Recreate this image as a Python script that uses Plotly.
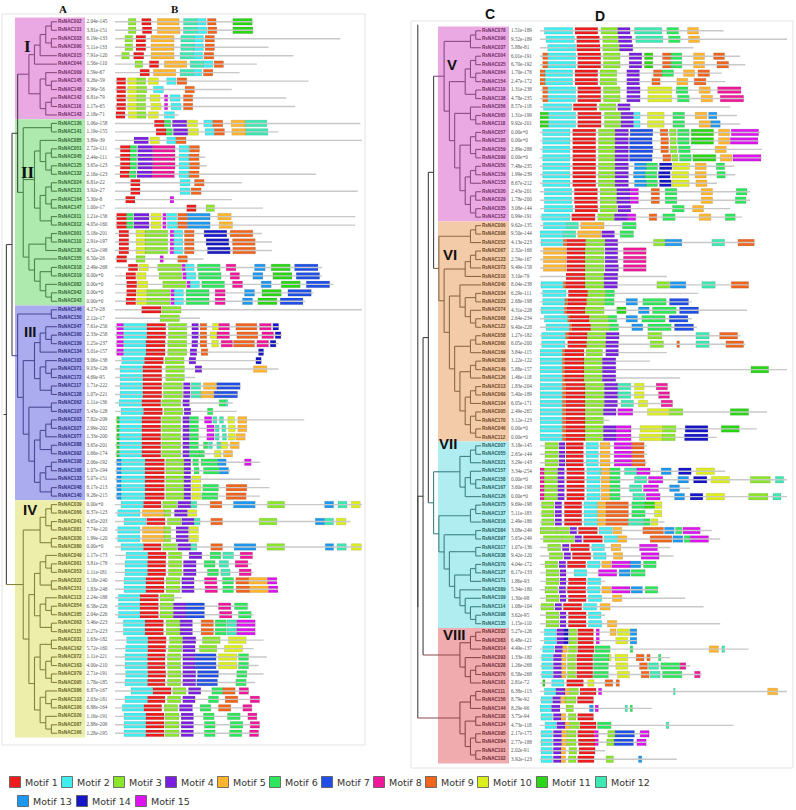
import plotly.graph_objects as go

# ---------------- data ----------------
MOTIF_NAMES = [f"Motif {i}" for i in range(1, 16)]
MOTIF_COLORS = ["#ee1c1c", "#40eef0", "#8ae62a", "#7a1fe0", "#ffb52e", "#2ee65c", "#1f4fe6",
                "#f0189a", "#f0651e", "#dcee1e", "#2ad616", "#3de8b2", "#1e98ee", "#1616c8", "#dc14ee"]

GI_genes = ["RsNAC002", "RsNAC131", "RsNAC033", "RsNAC090", "RsNAC015", "RsNAC044", "RsNAC009", "RsNAC145",
            "RsNAC148", "RsNAC142", "RsNAC116", "RsNAC143"]
GI_evalues = ["2.04e-145", "3.81e-151", "6.19e-133", "5.11e-133", "7.91e-120", "1.56e-110", "1.59e-67",
              "9.26e-59", "2.96e-56", "6.81e-79", "1.17e-65", "2.18e-71"]
GI_lengths = [415, 415, 675, 460, 535, 425, 373, 580, 350, 513, 540, 190]
GI_motifs = [
    "3:40-63 1:80-108 5:127-192 12:205-245 2:245-273 9:277-303 11:353-411",
    "3:40-63 1:82-110 5:127-195 12:205-245 2:245-275 9:278-305 11:353-413",
    "3:30-53 1:63-92 5:108-177 12:197-237 2:237-265 9:270-298",
    "3:30-53 1:63-92 5:108-177 12:197-237 2:237-265 9:270-298",
    "3:20-43 1:56-86 5:108-177 12:195-235 2:235-263 9:267-296",
    "3:60-83 1:103-131 5:148-215 12:225-265 2:265-293 9:297-325",
    "1:75-103 5:115-182 12:195-235 2:235-260 9:265-293",
    "1:5-32 10:38-65 3:65-92 10:100-130 2:155-183 9:186-215",
    "1:5-32 10:38-65 3:65-95 2:115-145 9:210-238",
    "1:5-32 10:38-65 3:65-92 10:105-135 15:148-158 2:165-195 9:205-233",
    "1:5-32 10:38-65 3:65-92 10:108-138 15:148-158 2:168-198 9:205-233",
    "1:3-30 10:40-67 3:67-93 10:100-130 2:148-178",
]
GI_tree = [[[[[0, 1], [2, 3]], 4], 5], [[6, [7, 8]], [[9, 10], 11]]]

GII_genes = ["RsNAC136", "RsNAC141", "RsNAC085", "RsNAC051", "RsNAC045", "RsNAC125", "RsNAC132", "RsNAC024",
             "RsNAC121", "RsNAC164", "RsNAC147", "RsNAC011", "RsNAC012", "RsNAC001", "RsNAC110", "RsNAC130",
             "RsNAC155", "RsNAC018", "RsNAC019", "RsNAC082", "RsNAC042", "RsNAC043"]
GII_evalues = ["1.06e-158", "1.19e-155", "3.89e-39", "2.72e-111", "2.44e-111", "3.65e-123", "2.16e-123",
               "6.81e-22", "3.92e-27", "5.30e-8", "1.00e-17", "1.21e-156", "4.05e-160", "5.18e-201",
               "2.91e-197", "4.52e-198", "6.50e-26", "2.49e-268", "0.00e+0", "0.00e+0", "0.00e+0", "0.00e+0"]
GII_lengths = [735, 490, 740, 255, 270, 275, 602, 380, 727, 350, 443, 720, 720, 440, 470, 470, 265, 620, 620,
               655, 595, 570]
GII_motifs = [
    "1:118-148 6:148-167 4:172-215 10:217-247 2:266-293 9:293-323 5:348-390 12:390-455",
    "1:123-153 6:153-172 4:175-218 10:220-250 2:270-298 9:298-328 5:350-392 12:392-458",
    "4:57-100 10:105-133 2:155-183 9:183-213",
    "1:16-45 6:45-65 4:68-113 8:113-180 2:192-222 9:223-253",
    "1:16-45 6:45-65 4:68-113 8:113-180 2:192-222 9:222-252",
    "1:16-45 6:45-65 4:68-113 8:113-180 2:192-222 9:223-253",
    "1:15-43 6:43-63 4:66-111 8:111-178 2:192-222 9:222-252",
    "1:47-75 2:195-225 9:238-267",
    "1:47-75 2:195-225 9:228-258",
    "1:32-60 15:165-176",
    "1:215-243 3:273-298",
    "1:5-35 6:35-55 4:57-102 10:108-138 15:143-153 2:155-185 9:188-217 13:217-285 5:308-348",
    "1:5-35 6:35-55 4:57-102 10:108-138 15:143-153 2:157-187 9:188-217 13:217-285 5:312-352",
    "1:12-41 10:63-90 3:90-158 15:165-176 2:176-203 9:208-237 14:267-335 9:345-413",
    "1:12-41 10:63-90 3:90-158 15:165-176 2:176-203 9:208-237 14:273-341 9:352-420",
    "1:12-41 10:63-90 3:90-158 15:165-176 2:176-203 9:208-237 14:277-345 9:353-421",
    "1:5-35 3:63-90 15:135-145 9:188-217",
    "1:40-68 10:72-100 3:128-198 15:200-210 2:210-237 6:247-315 8:333-362 13:418-450 11:468-525 7:538-608",
    "1:33-62 10:65-93 3:132-200 15:203-213 2:213-242 6:250-318 8:345-373 13:413-443 11:473-530 7:543-613",
    "1:35-65 10:68-98 3:143-212 15:215-225 2:225-253 6:260-328 8:352-382 13:438-468 11:498-555 7:573-643",
    "1:35-63 10:65-95 3:95-165 15:167-177 2:177-205 6:213-282 8:300-330 13:388-418 11:440-498 7:518-588",
    "1:33-62 10:65-95 3:95-165 15:167-177 2:177-205 6:213-282 8:300-330 13:382-412 11:428-485 7:495-563",
]
GII_tree = [[0, 1], [[2, [[3, 4], [5, 6]]], [[[7, 8], [9, 10]], [11, 12]]],
            [[[13, 14], 15], [16, [[17, 18], [19, [20, 21]]]]]]

GIII_genes = ["RsNAC146", "RsNAC150", "RsNAC047", "RsNAC160", "RsNAC139", "RsNAC134", "RsNAC103", "RsNAC071",
              "RsNAC172", "RsNAC117", "RsNAC128", "RsNAC062", "RsNAC107", "RsNAC003", "RsNAC027", "RsNAC077",
              "RsNAC088", "RsNAC092", "RsNAC108", "RsNAC168", "RsNAC133", "RsNAC048", "RsNAC140"]
GIII_evalues = ["4.27e-28", "2.12e-17", "7.61e-256", "2.33e-258", "1.25e-237", "5.01e-157", "3.06e-138",
                "9.03e-126", "4.69e-95", "1.71e-222", "1.07e-221", "1.11e-136", "5.43e-128", "7.82e-209",
                "2.99e-202", "1.33e-200", "3.65e-201", "1.66e-174", "2.06e-192", "1.07e-194", "5.07e-151",
                "8.17e-213", "9.28e-215"]
GIII_lengths = [740, 255, 490, 500, 490, 445, 440, 490, 240, 375, 367, 353, 365, 567, 395, 390, 372, 352, 435,
                345, 435, 463, 435]
GIII_motifs = [
    "1:80-138 3:140-198",
    "3:135-193",
    "15:5-25 2:25-95 1:95-152 3:160-215 4:230-250 9:255-275 10:292-310 8:310-343 9:362-425 8:433-468 14:473-490",
    "15:5-25 2:25-95 1:95-152 3:160-215 4:230-250 9:255-275 10:285-305 8:305-343 9:365-428 8:440-475 14:480-497",
    "15:5-25 2:25-93 1:93-150 3:158-215 4:230-248 9:255-275 10:290-310 8:318-352 9:355-418 8:425-460 14:465-482",
    "15:5-25 2:25-93 1:93-150 3:158-215 4:225-245 9:258-278 14:430-445",
    "2:20-88 1:88-145 3:150-207 4:222-242 14:422-438",
    "2:15-83 1:83-140 3:152-208 4:240-260 5:415-455",
    "2:15-83 1:83-140 3:152-208",
    "2:15-83 1:83-140 3:145-202 4:205-225 12:228-257 5:265-305 7:305-375",
    "2:15-83 1:83-140 3:145-202 4:205-225 12:228-257 5:257-297 7:297-367",
    "2:12-80 1:80-137 3:140-197 4:203-223 6:312-330 12:330-338",
    "2:18-85 1:85-142 3:147-203 4:207-227 6:277-293",
    "11:5-12 2:12-80 1:80-137 3:140-197 4:203-223 6:223-250 15:268-290 12:293-305 12:313-325 10:338-358 5:368-395",
    "11:5-12 2:12-80 1:80-137 3:140-197 4:203-223 6:223-250 15:275-297 12:300-312 12:320-332 10:340-360 5:368-395",
    "11:5-12 2:12-80 1:80-137 3:140-197 4:203-223 6:223-250 15:275-297 12:300-312 12:322-334 10:340-360 5:363-390",
    "11:5-12 2:12-80 1:80-137 3:140-197 4:203-223 6:223-250 6:265-278 12:280-292 12:305-317 10:318-338 5:345-372",
    "11:5-12 2:12-80 1:80-137 3:140-197 4:203-223 6:223-255 6:255-268 10:298-318 5:325-352",
    "13:5-18 2:18-90 1:90-148 3:152-207 4:207-227 6:233-250 6:258-308 13:308-333 15:388-408",
    "13:5-18 2:18-90 1:90-148 3:152-207 4:207-227 6:237-252 6:265-313 13:313-340",
    "13:5-18 2:18-90 1:90-148 3:152-207 4:207-227 10:230-257",
    "13:5-18 2:18-90 1:90-148 3:152-207 4:207-227 10:230-257 6:263-310 9:333-395",
    "13:5-18 2:18-90 1:90-148 3:152-207 4:207-227 10:230-257 6:260-308 9:333-393",
]
GIII_tree = [[0, 1], [[[[2, [3, 4]], 5], [[6, [7, 8]], [9, 10]]],
                      [[11, 12], [[[[13, 14], 15], [16, 17]], [[[18, 19], 20], [21, 22]]]]]]

GIV_genes = ["RsNAC039", "RsNAC066", "RsNAC041", "RsNAC081", "RsNAC030", "RsNAC080", "RsNAC049", "RsNAC061",
             "RsNAC053", "RsNAC022", "RsNAC151", "RsNAC113", "RsNAC054", "RsNAC165", "RsNAC063", "RsNAC115",
             "RsNAC031", "RsNAC162", "RsNAC072", "RsNAC163", "RsNAC079", "RsNAC095", "RsNAC086", "RsNAC103",
             "RsNAC106", "RsNAC026", "RsNAC087", "RsNAC166"]
GIV_evalues = ["0.00e+0", "6.37e-123", "4.65e-203", "7.74e-120", "1.99e-120", "0.00e+0", "1.17e-173",
               "3.81e-178", "1.11e-181", "5.18e-240", "1.83e-248", "2.24e-188", "6.58e-226", "2.04e-226",
               "5.46e-223", "2.27e-223", "1.63e-182", "5.72e-160", "1.11e-221", "4.00e-210", "2.71e-191",
               "1.78e-185", "6.87e-167", "2.03e-181", "6.88e-164", "1.16e-191", "2.88e-209", "1.28e-195"]
GIV_lengths = [740, 245, 705, 250, 250, 740, 415, 410, 415, 485, 488, 200, 400, 415, 420, 420, 445, 415, 455,
               430, 445, 420, 400, 433, 410, 425, 433, 430]
GIV_motifs = [
    "2:18-85 1:85-138 3:143-185 4:188-227 12:227-245 9:285-320 13:355-420 3:457-508 13:628-655 12:668-695 10:708-735",
    "2:8-75 5:82-147 3:147-167 4:178-217 10:218-245",
    "2:27-93 1:95-150 3:157-198 4:200-237 12:237-255 9:287-322 3:432-485 13:600-627 12:627-655 10:663-692",
    "2:8-75 5:82-147 3:147-167 4:183-220 10:222-250",
    "2:8-75 5:82-147 3:147-167 4:183-220 10:222-250",
    "2:18-85 1:85-138 3:143-185 4:188-227 12:227-245 9:287-322 13:357-422 3:455-508 13:630-655 12:665-693 10:708-738",
    "2:33-98 1:98-153 3:160-200 4:222-260 6:285-317 12:323-355 8:375-412",
    "2:30-97 1:97-152 3:160-200 4:205-243 6:267-300 12:312-340 8:360-398",
    "2:30-97 1:97-152 3:160-200 4:205-243 6:277-310 12:317-345 8:372-408",
    "2:27-92 1:92-147 3:153-195 4:200-237 8:268-305 6:322-355 9:362-400 5:400-457 15:457-485",
    "2:27-92 1:92-147 3:153-195 4:200-237 8:270-307 6:323-355 9:363-403 5:403-460 15:460-488",
    "2:10-75 1:75-130 3:135-177",
    "2:10-75 1:75-130 3:135-175 4:175-213 7:213-268 8:310-347 6:358-397",
    "2:10-75 1:75-130 3:135-175 4:175-213 7:213-268 8:313-350 6:370-408",
    "2:25-90 1:90-145 3:153-195 4:195-232 9:258-295 6:300-333 12:335-365 15:365-420",
    "2:25-90 1:90-145 3:153-195 4:195-232 9:258-295 6:300-333 12:335-365 15:365-420",
    "2:35-98 1:98-153 3:163-203 4:203-242 3:262-315 10:340-393",
    "2:32-98 1:98-152 3:160-200 4:203-240 3:253-305 10:328-382",
    "2:30-97 1:97-150 3:157-197 4:203-240 7:240-303 10:310-365 6:370-400",
    "2:30-97 1:97-150 3:157-197 4:203-240 7:240-303 10:310-365 6:370-400",
    "2:32-98 1:98-152 3:158-198 4:203-242 7:247-310 6:365-395",
    "2:30-97 1:97-150 3:157-197 4:203-242 7:245-307 6:362-393",
    "2:48-113 1:113-168 3:173-213 4:220-257 6:290-323 9:323-360 8:372-400",
    "2:30-97 1:97-150 3:157-197 4:203-240 6:280-310 9:330-368 8:405-433",
    "2:22-87 1:87-140 3:147-188 4:193-232 6:255-287 9:310-347 8:383-410",
    "2:27-92 1:92-147 3:150-192 4:198-235 6:265-297 6:337-375 8:398-425",
    "2:27-92 1:92-147 3:150-192 4:198-235 6:268-300 6:345-383 8:405-433",
    "2:27-92 1:92-147 3:150-192 4:198-235 6:268-300 6:343-380 8:403-430",
]
GIV_tree = [[[[0, 1], [2, 3]], [4, 5]],
            [[[[6, [7, 8]], [9, 10]], [[11, [12, 13]], [14, 15]]],
             [[[16, 17], [[18, 19], [20, 21]]], [[22, [23, 24]], [25, [26, 27]]]]]]

GV_genes = ["RsNAC078", "RsNAC096", "RsNAC037", "RsNAC004", "RsNAC025", "RsNAC064", "RsNAC154", "RsNAC119",
            "RsNAC138", "RsNAC056", "RsNAC065", "RsNAC118", "RsNAC057", "RsNAC105", "RsNAC059", "RsNAC099",
            "RsNAC050", "RsNAC159", "RsNAC153", "RsNAC020", "RsNAC029", "RsNAC035", "RsNAC152"]
GV_evalues = ["1.51e-189", "9.52e-189", "5.88e-81", "6.01e-191", "6.70e-192", "1.70e-176", "2.47e-172",
              "1.31e-238", "4.78e-235", "8.57e-118", "1.31e-199", "9.92e-201", "0.00e+0", "0.00e+0",
              "2.89e-288", "0.00e+0", "7.48e-235", "1.99e-239", "8.67e-212", "2.43e-201", "1.78e-200",
              "3.08e-144", "0.99e-191"]
GV_lengths = [550, 740, 460, 600, 615, 545, 555, 602, 610, 570, 590, 600, 660, 655, 665, 665, 582, 585, 530,
              630, 630, 570, 605]
GV_motifs = [
    "2:13-98 1:105-173 3:183-233 4:233-270 12:283-365 6:380-415 5:442-475",
    "2:18-103 1:110-178 3:188-235 4:235-275 12:287-368 6:385-420 5:445-478",
    "2:23-107 1:110-180 3:188-238 4:238-278",
    "9:8-23 2:23-107 1:113-182 3:190-240 4:267-305 11:313-338 9:367-392 6:392-425 5:460-493 9:520-553",
    "9:8-23 2:23-107 1:113-182 3:190-240 4:267-305 11:313-338 9:367-392 6:392-425 5:460-493 9:530-565",
    "9:0-15 2:15-98 1:105-173 3:180-230 4:260-298 9:340-365 6:365-400 5:430-463 9:473-508",
    "9:0-15 2:15-98 1:105-173 3:180-230 4:260-298 9:335-360 5:410-443 9:462-497",
    "9:8-23 2:23-107 1:113-182 3:190-240 4:260-300 10:323-395 6:408-443 5:477-510 8:532-602",
    "9:8-23 2:23-107 1:113-182 3:190-240 4:260-300 10:323-395 6:412-447 5:483-517 8:540-610",
    "2:10-95 1:100-170 3:178-228 4:233-270",
    "11:0-25 2:25-107 1:113-183 3:193-243 4:243-280 2:280-300 10:322-372 6:398-433 5:465-500 13:505-530",
    "11:0-25 2:25-107 1:113-183 3:193-243 4:243-280 2:280-300 10:322-372 6:398-433 5:477-512 13:512-540",
    "2:8-90 1:98-167 3:175-225 4:225-265 7:270-338 9:360-383 3:388-408 6:412-447 11:453-520 5:535-568 15:573-655",
    "2:8-90 1:98-167 3:175-225 4:225-265 7:268-336 9:362-385 3:390-408 6:412-447 11:453-520 5:535-568 15:570-653",
    "2:8-90 1:98-167 3:175-225 4:225-265 7:268-338 9:362-385 3:390-410 6:415-450 5:525-558",
    "2:8-90 1:98-167 3:175-225 4:225-265 7:268-336 9:368-392 3:395-413 6:418-453 11:458-527 5:540-575 15:578-662",
    "2:8-90 1:98-167 3:175-225 4:225-265 13:283-318 6:318-352 14:358-395 10:398-448 5:465-498 6:528-553",
    "2:8-90 1:98-167 3:175-225 4:225-265 13:280-315 6:315-350 14:355-390 10:395-445 5:465-498 6:530-555",
    "2:8-90 1:98-167 3:175-225 4:225-265 13:283-318 6:318-352 14:358-393 10:395-447 5:467-500",
    "2:13-95 1:103-172 3:180-230 4:230-270 15:270-295 9:333-358 6:375-410 5:483-517 6:588-620",
    "2:13-95 1:103-172 3:180-230 4:230-270 15:270-295 9:333-358 6:375-410 5:483-517 6:585-617",
    "2:13-98 1:105-173 3:180-230 4:233-272 6:397-432 5:457-490",
    "2:5-90 1:95-165 3:173-223 4:223-263 15:263-287 9:327-350 6:368-405 5:477-512 6:555-585",
]
GV_tree = [[[0, 1], 2], [[[[3, 4], [5, 6]], [7, 8]],
                         [[9, [10, 11]], [[[12, 13], [14, 15]], [[[16, 17], 18], [[19, 20], [21, 22]]]]]]]

GVI_genes = ["RsNAC006", "RsNAC008", "RsNAC052", "RsNAC067", "RsNAC123", "RsNAC073", "RsNAC010", "RsNAC040",
             "RsNAC034", "RsNAC023", "RsNAC074", "RsNAC068", "RsNAC122", "RsNAC058", "RsNAC060", "RsNAC169",
             "RsNAC036", "RsNAC149", "RsNAC126", "RsNAC013", "RsNAC069", "RsNAC104", "RsNAC005", "RsNAC170",
             "RsNAC046", "RsNAC112"]
GVI_evalues = ["9.62e-135", "9.50e-144", "4.13e-223", "2.32e-166", "2.59e-167", "9.49e-158", "3.10e-79",
               "8.04e-238", "6.29e-111", "2.68e-198", "4.31e-228", "2.64e-234", "9.40e-228", "1.27e-182",
               "6.05e-200", "3.84e-115", "1.22e-122", "5.88e-157", "1.46e-118", "1.83e-204", "5.40e-189",
               "6.05e-171", "2.49e-265", "3.12e-123", "0.00e+0", "0.00e+0"]
GVI_lengths = [290, 280, 645, 318, 318, 318, 380, 625, 475, 455, 620, 455, 470, 600, 615, 380, 330, 740, 420,
               385, 390, 400, 680, 208, 650, 530]
GVI_motifs = [
    "2:10-80 12:80-115 5:122-192 6:247-288",
    "2:0-70 12:70-107 5:113-183 4:185-223 6:240-280",
    "2:3-70 9:70-80 1:80-137 3:137-195 4:195-233 3:340-375 13:375-425 12:515-553 9:593-642",
    "5:10-78 1:80-135 3:135-192 4:195-233 8:250-318",
    "5:10-78 1:80-135 3:135-192 4:195-233 8:250-318",
    "5:10-78 1:80-135 3:135-192 4:195-235 8:250-318",
    "1:78-135 3:135-192 4:192-233",
    "2:3-70 9:70-78 1:78-135 3:135-192 4:192-232 3:350-388 13:390-437 12:485-525 9:573-625",
    "2:8-78 1:85-143 3:143-197 6:197-223",
    "2:8-75 9:75-83 1:83-140 3:140-195 6:195-222 13:258-292 6:308-378 7:388-445",
    "2:3-73 9:73-80 1:80-135 3:135-192 11:230-258 13:295-327 6:337-408 7:418-475",
    "2:13-83 9:83-90 1:90-148 3:148-205 6:205-230 13:258-292 6:305-375 7:387-443",
    "2:18-88 9:88-95 1:95-152 3:152-208 6:208-235 13:275-308 6:323-393 7:403-460",
    "2:5-77 9:77-85 1:85-142 3:142-198 4:198-237 3:323-365 12:467-507 9:538-592",
    "2:5-75 1:83-140 3:140-197 4:197-235 3:330-370 9:410-418 12:467-507 9:557-610",
    "2:0-67 9:67-75 1:75-132 3:138-187 4:197-235",
    "2:0-67 9:67-75 1:75-132 3:132-187 4:187-227",
    "2:0-67 9:67-75 1:75-132 3:132-187 4:187-227 11:632-685",
    "2:0-67 9:67-75 1:75-132 3:132-187 4:187-227",
    "2:0-67 9:67-77 1:77-135 3:135-193 4:193-233 12:233-272 10:283-312 8:348-382",
    "2:0-67 9:67-77 1:77-135 3:135-193 4:193-233 12:233-272 10:283-312 8:355-388",
    "2:0-67 9:67-77 1:77-135 3:135-193 4:193-232 12:243-280 10:295-322 8:363-397",
    "2:0-67 9:67-77 1:77-135 3:135-190 4:190-228 15:233-278 10:322-388 3:388-428 11:570-625",
    "2:0-67 9:67-77 1:77-135 3:135-190",
    "2:0-67 9:67-77 1:77-135 3:135-190 4:190-228 15:228-273 10:300-367 3:367-407 14:435-503 11:543-597",
    "2:0-67 9:67-77 1:77-135 3:135-190 4:190-228 15:228-273 10:298-365 3:365-405 14:433-503",
]
GVI_tree = [[[0, 1], 2], [[[[3, 4], 5], 6],
                          [[7, [[8, 9], [10, [11, 12]]]],
                           [[[13, 14], 15], [[[16, 17], 18], [[[19, 20], 21], [[22, 23], [24, 25]]]]]]]]

GVII_genes = ["RsNAC007", "RsNAC055", "RsNAC021", "RsNAC157", "RsNAC158", "RsNAC167", "RsNAC126", "RsNAC075",
              "RsNAC137", "RsNAC016", "RsNAC084", "RsNAC097", "RsNAC017", "RsNAC038", "RsNAC070", "RsNAC127",
              "RsNAC171", "RsNAC089", "RsNAC109", "RsNAC114", "RsNAC098", "RsNAC135"]
GVII_evalues = ["3.18e-145", "2.65e-144", "3.29e-143", "3.34e-254", "0.00e+0", "3.60e-198", "0.00e+0",
                "9.69e-198", "5.11e-183", "2.49e-186", "3.08e-249", "5.65e-249", "1.07e-136", "9.42e-120",
                "4.04e-172", "6.17e-133", "1.86e-93", "5.34e-180", "1.30e-98", "1.08e-104", "3.62e-95",
                "1.15e-110"]
GVII_lengths = [320, 320, 320, 555, 740, 450, 740, 365, 365, 373, 515, 540, 390, 400, 348, 315, 195, 353, 435,
                490, 195, 540]
GVII_motifs = [
    "3:15-55 4:57-75 1:78-130 2:138-175 5:180-210 15:222-275 9:275-312",
    "3:15-55 4:57-75 1:78-130 2:138-175 5:180-210 15:222-275 9:275-312",
    "3:15-55 4:57-75 1:78-130 2:138-175 5:180-210 15:222-275 9:275-315",
    "8:0-12 3:12-52 4:53-73 1:80-133 2:140-183 5:183-210 6:210-240 12:253-290 15:290-330 13:363-393 14:415-453 10:468-523",
    "8:0-12 3:12-52 4:53-73 1:80-133 2:140-180 5:183-210 6:210-240 12:283-320 15:325-368 13:413-445 14:460-500 10:513-568 3:630-690 12:705-730",
    "8:0-12 3:12-52 4:53-73 1:80-133 2:140-180 5:183-210 6:210-240 12:268-305 15:310-355 13:388-418",
    "8:0-12 3:12-52 4:53-73 1:80-133 2:140-180 5:183-210 6:210-240 12:278-315 15:318-360 13:403-433 14:450-488 10:498-553 3:625-683 12:698-722",
    "3:5-42 4:45-65 1:73-125 2:132-172 5:172-198 9:198-265 6:275-313 11:313-343 10:343-365",
    "3:5-42 4:45-65 1:73-125 2:132-172 5:172-198 9:198-265 6:275-315 10:343-365",
    "3:5-42 4:45-65 1:73-125 2:132-172 5:172-198 9:198-265 12:265-310 6:310-330 10:333-353",
    "3:0-50 3:50-88 4:90-110 1:115-172 2:177-216 5:218-245 9:308-370 13:373-402 6:406-425 15:428-480",
    "3:10-65 3:65-103 4:105-125 1:130-187 2:192-232 5:233-260 9:330-395 13:398-428 6:432-450 15:450-505",
    "3:23-62 4:67-87 1:92-148 2:155-193 5:213-242 15:298-352",
    "3:28-68 4:72-92 1:97-152 2:160-198 5:220-248 15:303-357",
    "3:15-53 4:57-77 1:82-137 2:142-180 5:185-213 15:215-270 13:270-302 6:310-348",
    "3:18-57 4:60-78 2:102-140 15:175-230 13:237-270 6:273-315",
    "3:18-57 4:60-78 1:85-138 2:143-182",
    "3:15-53 4:57-77 1:82-137 2:142-180 5:185-213 15:215-270 13:273-307 6:315-353",
    "3:18-57 4:60-78 1:85-138 2:145-185 5:217-245",
    "3:3-42 4:45-65 1:70-125 2:130-170 5:180-210",
    "3:18-57 4:60-78 1:85-138 2:145-183",
    "3:18-57 4:60-78 1:85-138 2:145-185 5:202-230",
]
GVII_tree = [[[[0, 1], 2], [[3, [4, 5]], 6]],
             [[[7, 8], 9], [[10, 11], [[12, 13], [[[14, 15], 16], [17, [18, [19, [20, 21]]]]]]]]]

GVIII_genes = ["RsNAC032", "RsNAC083", "RsNAC014", "RsNAC093", "RsNAC028", "RsNAC076", "RsNAC161", "RsNAC111",
               "RsNAC156", "RsNAC144", "RsNAC100", "RsNAC124", "RsNAC095", "RsNAC094", "RsNAC101", "RsNAC102"]
GVIII_evalues = ["5.27e-126", "6.48e-121", "4.49e-137", "1.33e-180", "1.26e-268", "6.58e-268", "2.81e-72",
                 "6.38e-113", "8.79e-92", "8.29e-96", "3.75e-94", "4.73e-118", "2.17e-175", "2.77e-188",
                 "2.02e-91", "3.92e-123"]
GVIII_lengths = [290, 290, 625, 390, 450, 485, 238, 740, 160, 335, 160, 580, 325, 320, 195, 410]
GVIII_motifs = [
    "2:13-48 4:50-72 14:72-85 3:87-110 1:113-160 15:168-178 5:210-228 10:232-268 13:270-290",
    "2:13-48 4:50-72 14:72-85 3:87-110 1:113-160 15:168-178 10:227-263 13:270-290",
    "2:8-42 4:45-68 5:68-82 3:85-110 1:113-162 6:165-210 6:270-278 5:507-535 12:545-553",
    "2:5-38 4:40-65 5:65-78 3:82-107 1:110-158 6:160-207 10:207-213 10:225-263 9:288-312 9:320-330 6:355-362",
    "2:5-38 4:40-65 5:65-78 3:82-107 1:110-158 6:160-205 10:227-263 9:298-322 12:325-355 6:362-420 8:420-437",
    "2:5-38 4:40-65 5:65-78 3:82-107 1:110-158 6:160-205 10:232-268 9:303-327 12:330-360 6:367-425 8:463-480",
    "11:8-15 2:35-72 1:80-130 10:143-162 9:195-218 9:228-238",
    "2:13-48 4:48-75 5:75-88 3:88-115 1:120-168 15:175-185 12:400-405 5:682-712",
    "2:3-37 4:38-62 5:62-75 3:75-108 1:112-160",
    "2:0-35 4:35-60 3:78-100 13:148-160 15:165-175 12:255-262 6:270-277",
    "2:3-37 4:40-63 5:63-77 3:85-108 1:113-160",
    "2:15-48 4:50-75 5:75-88 3:88-118 1:120-168 6:172-213 12:378-386",
    "2:3-37 4:40-65 5:65-80 3:80-108 1:113-163 15:163-175 3:203-225 7:225-283 15:300-327",
    "2:3-37 4:40-65 5:65-80 3:80-108 1:115-165 15:165-175 3:200-222 7:222-280 15:290-318",
    "2:3-37 4:40-63 5:63-77 3:87-110 1:117-165",
    "2:3-37 4:40-63 5:63-77 3:85-108 1:113-162 3:198-220 13:295-305",
]
GVIII_tree = [[[[0, 1], 2], [3, [[4, 5], 6]]], [[[7, 8], 9], [[10, 11], [[12, 13], [14, 15]]]]]

GROUP_LABELS = ["I", "II", "III", "IV", "V", "VI", "VII", "VIII"]

# ---------------- styles ----------------
BAND_COLORS = ["#eaa9e2", "#aeeaae", "#ababf0", "#eeeeab", "#eaa9e2", "#f3cba8", "#b0edf0", "#f0abae"]
TREE_COLORS = ["#8a4a82", "#4a864a", "#4a4a96", "#84843c", "#8a4a82", "#8c6a45", "#3e8282", "#8c4a4e"]
NAME_COLORS = ["#6e2a66", "#2d662d", "#2a2a7a", "#62621e", "#6e2a66", "#6a4520", "#1f6060", "#6e2a30"]
BACKBONE = "#444444"
W, H = 796, 810
ROW = 8.47


def parse(s):
    out = []
    for tok in s.split():
        m, rng = tok.split(":")
        a, b = rng.split("-")
        out.append((int(m), float(a), float(b)))
    return out


def shift(t, k):
    return t + k if isinstance(t, int) else [shift(c, k) for c in t]


def leaves(t):
    if isinstance(t, int):
        return [t]
    r = []
    for c in t:
        r.extend(leaves(c))
    return r


panels = [
    dict(groups=[0, 1, 2, 3],
         genes=[GI_genes, GII_genes, GIII_genes, GIV_genes],
         evals=[GI_evalues, GII_evalues, GIII_evalues, GIV_evalues],
         lens=[GI_lengths, GII_lengths, GIII_lengths, GIV_lengths],
         motifs=[GI_motifs, GII_motifs, GIII_motifs, GIV_motifs],
         trees=[GI_tree, GII_tree, GIII_tree, GIV_tree],
         row0=21.8, band=(15, 85), name_x=58, eval_x=86.5, motif_dom=(115, 362),
         tree_dom=(3, 57), xm="x2", xt="x4", y="y2"),
    dict(groups=[4, 5, 6, 7],
         genes=[GV_genes, GVI_genes, GVII_genes, GVIII_genes],
         evals=[GV_evalues, GVI_evalues, GVII_evalues, GVIII_evalues],
         lens=[GV_lengths, GVI_lengths, GVII_lengths, GVIII_lengths],
         motifs=[GV_motifs, GVI_motifs, GVII_motifs, GVIII_motifs],
         trees=[GV_tree, GVI_tree, GVII_tree, GVIII_tree],
         row0=30.8, band=(438, 509), name_x=482, eval_x=511, motif_dom=(540, 787),
         tree_dom=(417, 481), xm="x3", xt="x5", y="y3"),
]

fig = go.Figure()
shapes = []
annotations = []
layout_axes = {}

for pi, P in enumerate(panels):
    rows_all, names_all, evals_all, lens_all, mot_all, grp_of = [], [], [], [], [], []
    subtrees = []
    k = 0
    for gi, g in enumerate(P["groups"]):
        n = len(P["genes"][gi])
        subtrees.append(shift(P["trees"][gi], k))
        shapes.append(dict(type="rect", xref="x", yref=P["y"], x0=P["band"][0], x1=P["band"][1],
                           y0=k - 0.5, y1=k + n - 0.5, fillcolor=BAND_COLORS[g], line=dict(width=0),
                           layer="below"))
        for j in range(n):
            rows_all.append(k + j)
            grp_of.append(g)
            names_all.append(P["genes"][gi][j])
            evals_all.append(P["evals"][gi][j])
            lens_all.append(P["lens"][gi][j])
            mot_all.append(parse(P["motifs"][gi][j]))
        k += n
    nrows = k

    # full tree topology
    if pi == 0:
        full = [[[subtrees[0], subtrees[1]], subtrees[2]], subtrees[3]]
    else:
        v8 = subtrees[3]
        full = [[[[subtrees[0], subtrees[1]], subtrees[2]], v8[0]], v8[1]]

    segs = []

    def colour(t):
        gs = {grp_of[l] for l in leaves(t)}
        return TREE_COLORS[gs.pop()] if len(gs) == 1 else BACKBONE

    def walk(t):
        if isinstance(t, int):
            return float(t), 0
        ch = [walk(c) for c in t]
        h = 1 + max(c[1] for c in ch)
        ys = [c[0] for c in ch]
        for ct, (cy, chh) in zip(t, ch):
            segs.append((colour(ct), [h, chh], [cy, cy]))
        segs.append((colour(t), [h, h], [ys[0], ys[-1]]))
        return (ys[0] + ys[-1]) / 2, h

    root_y, HT = walk(full)
    if pi == 0:
        segs.append((BACKBONE, [HT, HT + 0.5], [root_y, root_y]))
    else:
        segs.append((BACKBONE, [HT, HT], [root_y, -0.7]))
    by_col = {}
    for c, xs, ys in segs:
        bx, byy = by_col.setdefault(c, ([], []))
        bx += xs + [None]
        byy += ys + [None]
    for c, (xs, ys) in by_col.items():
        fig.add_trace(go.Scatter(x=xs, y=ys, mode="lines", line=dict(color=c, width=1.1),
                                 xaxis=P["xt"], yaxis=P["y"], hoverinfo="skip", showlegend=False))

    # protein lines
    lx, ly = [], []
    for r, L in zip(rows_all, lens_all):
        lx += [0, L, None]
        ly += [r, r, None]
    fig.add_trace(go.Scatter(x=lx, y=ly, mode="lines", line=dict(color="#c8c8c8", width=1.4),
                             xaxis=P["xm"], yaxis=P["y"], hoverinfo="skip", showlegend=False))

    # motif blocks
    for m in range(1, 16):
        ys, bs, ws = [], [], []
        for r, ml in zip(rows_all, mot_all):
            for (mm, a, b) in ml:
                if mm == m:
                    ys.append(r)
                    bs.append(a)
                    ws.append(b - a)
        if ys:
            fig.add_trace(go.Bar(y=ys, x=ws, base=bs, orientation="h", width=0.78,
                                 marker=dict(color=MOTIF_COLORS[m - 1],
                                             line=dict(color="rgba(0,0,0,0.25)", width=0.4)),
                                 xaxis=P["xm"], yaxis=P["y"], hoverinfo="skip", showlegend=False))

    # gene names and e-values
    for g in P["groups"]:
        rr = [r for r, gg in zip(rows_all, grp_of) if gg == g]
        nn = [f"<b>{n}</b>" for n, gg in zip(names_all, grp_of) if gg == g]
        fig.add_trace(go.Scatter(x=[P["name_x"]] * len(rr), y=rr, text=nn, mode="text",
                                 textposition="middle right",
                                 textfont=dict(family="Liberation Sans", size=4.6, color=NAME_COLORS[g]),
                                 xaxis="x", yaxis=P["y"], hoverinfo="skip", showlegend=False))
    fig.add_trace(go.Scatter(x=[P["eval_x"]] * nrows, y=rows_all, text=evals_all, mode="text",
                             textposition="middle right",
                             textfont=dict(family="Liberation Serif", size=5.2, color="#555555"),
                             xaxis="x", yaxis=P["y"], hoverinfo="skip", showlegend=False))

    # axes for this panel
    top = -P["row0"] / ROW
    yname = "yaxis" + P["y"][1:]
    layout_axes[yname] = dict(range=[top + H / ROW, top], domain=[0, 1], visible=False, fixedrange=True,
                              anchor="free", overlaying="y")
    xm = "xaxis" + P["xm"][1:]
    layout_axes[xm] = dict(range=[0, 740], domain=[P["motif_dom"][0] / W, P["motif_dom"][1] / W],
                           visible=False, fixedrange=True, anchor=P["y"])
    xt = "xaxis" + P["xt"][1:]
    layout_axes[xt] = dict(range=[HT + 0.6 if pi == 0 else HT + 0.15, 0],
                           domain=[P["tree_dom"][0] / W, P["tree_dom"][1] / W],
                           visible=False, fixedrange=True, anchor=P["y"])

# panel frames
shapes.append(dict(type="rect", xref="x", yref="y", x0=2, x1=365, y0=14, y1=745,
                   line=dict(color="#e3e3e3", width=1), layer="below"))
shapes.append(dict(type="rect", xref="x", yref="y", x0=411, x1=793, y0=21, y1=768,
                   line=dict(color="#e3e3e3", width=1), layer="below"))

# group labels
label_pos = [(27, 46), (28, 172), (30, 331), (30, 509), (452, 64), (450, 254), (448, 443), (454, 634)]
for gi, (lx_, ly_) in enumerate(label_pos):
    serif = gi < 2
    annotations.append(dict(x=lx_, y=ly_, xref="x", yref="y", showarrow=False,
                            text=f"<b>{GROUP_LABELS[gi]}</b>",
                            font=dict(family="Liberation Serif" if serif else "Liberation Sans",
                                      size=17 if serif else 15, color="#111111")))

# panel letters
for txt, px, py, fam, sz in [("A", 63, 9, "Liberation Serif", 11), ("B", 175, 9, "Liberation Serif", 11),
                             ("C", 490, 14, "Liberation Sans", 14), ("D", 600, 16, "Liberation Sans", 14)]:
    annotations.append(dict(x=px, y=py, xref="x", yref="y", showarrow=False, text=f"<b>{txt}</b>",
                            font=dict(family=fam, size=sz, color="#111111")))

# legend (manual)
lgx, lgy = [], []
xcur, ycur = 9, 782
for i, name in enumerate(MOTIF_NAMES):
    if i == 12:
        xcur, ycur = 17, 801
    lgx.append(xcur + 6)
    lgy.append(ycur)
    annotations.append(dict(x=xcur + 14, y=ycur, xref="x", yref="y", showarrow=False, text=name,
                            xanchor="left", font=dict(family="DejaVu Sans", size=9.5, color="#333333")))
    xcur += 52 if i < 9 else 59
fig.add_trace(go.Scatter(x=lgx, y=lgy, mode="markers",
                         marker=dict(symbol="square", size=11, color=MOTIF_COLORS,
                                     line=dict(color="#555555", width=0.8)),
                         xaxis="x", yaxis="y", hoverinfo="skip", showlegend=False))

fig.update_layout(
    width=W, height=H, margin=dict(l=0, r=0, t=0, b=0),
    paper_bgcolor="white", plot_bgcolor="rgba(0,0,0,0)",
    barmode="overlay", showlegend=False, shapes=shapes, annotations=annotations,
    xaxis=dict(range=[0, W], domain=[0, 1], visible=False, fixedrange=True),
    yaxis=dict(range=[H, 0], domain=[0, 1], visible=False, fixedrange=True),
    **layout_axes,
)

fig.write_html("out.html", config={"displayModeBar": False})

# remove the browser's default page margin so the figure sits at the window origin
with open("out.html", "r", encoding="utf-8") as fh:
    html = fh.read()
html = html.replace("<head>", "<head><style>html,body{margin:0;padding:0;overflow:hidden;}</style>", 1)
with open("out.html", "w", encoding="utf-8") as fh:
    fh.write(html)
